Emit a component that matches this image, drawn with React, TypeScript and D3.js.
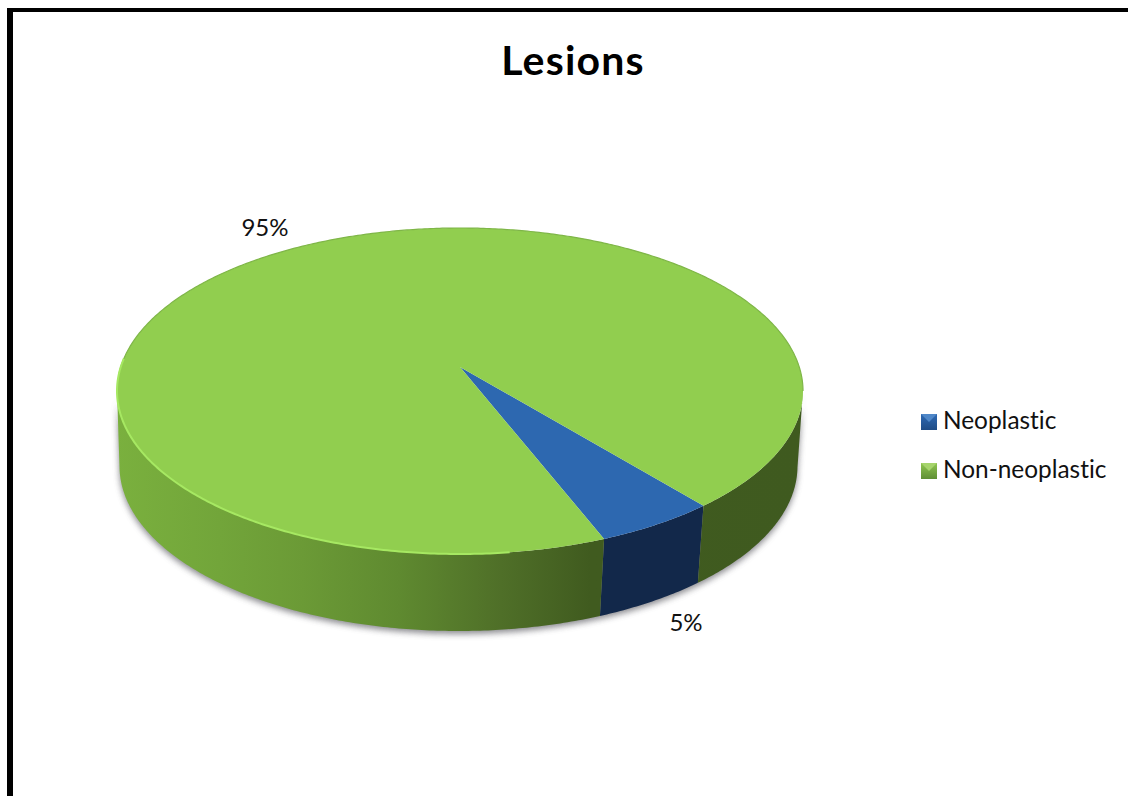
import React from "react";
import * as d3 from "d3";

const categories = ["Neoplastic", "Non-neoplastic"];
const shares = [5, 95];
const shareLabels = ["5%", "95%"];
const title = "Lesions";

const topColors = ["#2d68b0", "#91ce4f"];

const W = 1128;
const H = 796;
// The upper and lower rims differ slightly because the disc is seen in perspective.
const topRing = { cx: 460, cy: 391, rx: 343, ry: 163, shift: (367 - 391) / 163 };
const baseRing = { cx: 458.5, cy: 466, rx: 339, ry: 165, shift: -0.14 };
const firstSliceStart = (140.5 * Math.PI) / 180;

type Ring = typeof topRing;

// Projects a pie angle (clockwise from 12 o'clock) to a point on a tilted rim.
function rimPoint(ring: Ring, a: number): [number, number] {
  const u = Math.sin(a);
  const v = -Math.cos(a);
  const k = 1 + v * ring.shift;
  const px = (u * Math.sqrt(1 - ring.shift * ring.shift)) / k;
  const py = (v + ring.shift) / k;
  return [ring.cx + ring.rx * px, ring.cy + ring.ry * py];
}

function sample(ring: Ring, a0: number, a1: number) {
  const n = Math.max(2, Math.ceil(Math.abs(a1 - a0) / 0.01));
  return d3.range(n + 1).map((i) => rimPoint(ring, a0 + ((a1 - a0) * i) / n));
}

const line = d3.line();

const slices = d3
  .pie<number>()
  .sort(null)
  .startAngle(firstSliceStart)
  .endAngle(firstSliceStart + 2 * Math.PI)(shares);

// Pie angles at which the rim turns from the back half to the front half.
const frontStart = Math.acos(topRing.shift);
const frontEnd = 2 * Math.PI - frontStart;

// Parts of a slice that show a wall, each as [from, to] in pie angles.
function frontRanges(s: number, e: number) {
  const out: [number, number][] = [];
  for (const offset of [0, 2 * Math.PI]) {
    const a = Math.max(s, frontStart + offset);
    const b = Math.min(e, frontEnd + offset);
    if (b > a) out.push([a, b]);
  }
  return out;
}

function wallPath(a: number, b: number) {
  return line([...sample(topRing, a, b), ...sample(baseRing, b, a)]) + "Z";
}

function topPath(s: number, e: number) {
  return (
    line([[topRing.cx, topRing.cy + topRing.ry * topRing.shift], ...sample(topRing, s, e)]) + "Z"
  );
}

const wallFills = ["#12284a", "url(#wallGreen)"];
const legendY = [421, 470];
const keySize = 16;
const font = "Lato, Carlito, sans-serif";
const noLigatures = { fontVariantLigatures: "none" } as const;

export default function App() {
  return (
    <svg
      width={W}
      height={H}
      style={{ position: "absolute", left: 0, top: 0, background: "#fff", ...noLigatures }}
      fontFamily={font}
    >
      <defs>
        <linearGradient id="wallGreen" gradientUnits="userSpaceOnUse" x1={117} x2={803} y1={0} y2={0}>
          <stop offset="0" stopColor="#7ab03e" />
          <stop offset="0.15" stopColor="#72a53a" />
          <stop offset="0.27" stopColor="#6b9a36" />
          <stop offset="0.41" stopColor="#5f8a30" />
          <stop offset="0.56" stopColor="#4f6f28" />
          <stop offset="0.69" stopColor="#405b1f" />
          <stop offset="1" stopColor="#3f5a1f" />
        </linearGradient>
        <linearGradient id="keyBlue" x1="0" x2="0" y1="0" y2="1">
          <stop offset="0" stopColor="#2f6ab4" />
          <stop offset="1" stopColor="#1f4c86" />
        </linearGradient>
        <linearGradient id="keyGreen" x1="0" x2="0" y1="0" y2="1">
          <stop offset="0" stopColor="#8fc550" />
          <stop offset="1" stopColor="#5f8f35" />
        </linearGradient>
        <filter id="soft" x="-10%" y="-10%" width="120%" height="120%">
          <feGaussianBlur stdDeviation="3" />
        </filter>
      </defs>

      <rect x={7} y={8} width={6} height={H - 8} fill="#000" />
      <rect x={7} y={8} width={W - 7} height={4} fill="#000" />

      <text
        x={573}
        y={75}
        textAnchor="middle"
        fontSize={41}
        fontWeight={700}
        letterSpacing={1.2}
        fill="#000"
      >
        {title}
      </text>

      {/* soft shadow under the disc */}
      <path
        d={wallPath(frontStart, frontEnd)}
        fill="#5a5a60"
        opacity={0.7}
        filter="url(#soft)"
        transform="translate(0,3)"
      />

      {slices.map((d, i) =>
        frontRanges(d.startAngle, d.endAngle).map(([a, b], j) => (
          <path key={`${i}-${j}`} d={wallPath(a, b)} fill={wallFills[i]} />
        )),
      )}

      {slices.map((d, i) => (
        <path key={i} d={topPath(d.startAngle, d.endAngle)} fill={topColors[i]} />
      ))}

      {/* darker bevel on the back edge, lit edge along the front-left */}
      <path
        d={line(sample(topRing, frontEnd + 0.1, 2 * Math.PI + frontStart)) ?? ""}
        fill="none"
        stroke="#7fb648"
        strokeWidth={1.2}
      />
      <path
        d={line(sample(topRing, slices[1].startAngle + 0.25, frontEnd + 0.2)) ?? ""}
        fill="none"
        stroke="#a6e862"
        strokeWidth={2}
      />

      <text x={265} y={236} textAnchor="middle" fontSize={24} fill="#111">
        {shareLabels[1]}
      </text>
      <text x={686} y={631} textAnchor="middle" fontSize={24} fill="#111">
        {shareLabels[0]}
      </text>

      {categories.map((c, i) => {
        const kx = 921;
        const ky = legendY[i] - 7;
        return (
          <g key={c}>
            <rect
              x={kx}
              y={ky}
              width={keySize}
              height={keySize}
              fill={i === 0 ? "url(#keyBlue)" : "url(#keyGreen)"}
            />
            {/* pressed-in facet of the key */}
            <path
              d={`M${kx} ${ky}H${kx + keySize}L${kx + keySize / 2} ${ky + keySize / 2}Z`}
              fill={i === 0 ? "#4f87c8" : "#a6d46c"}
            />
            <text x={943} y={legendY[i] + 8} fontSize={24.4} fill="#111">
              {c}
            </text>
          </g>
        );
      })}
    </svg>
  );
}
